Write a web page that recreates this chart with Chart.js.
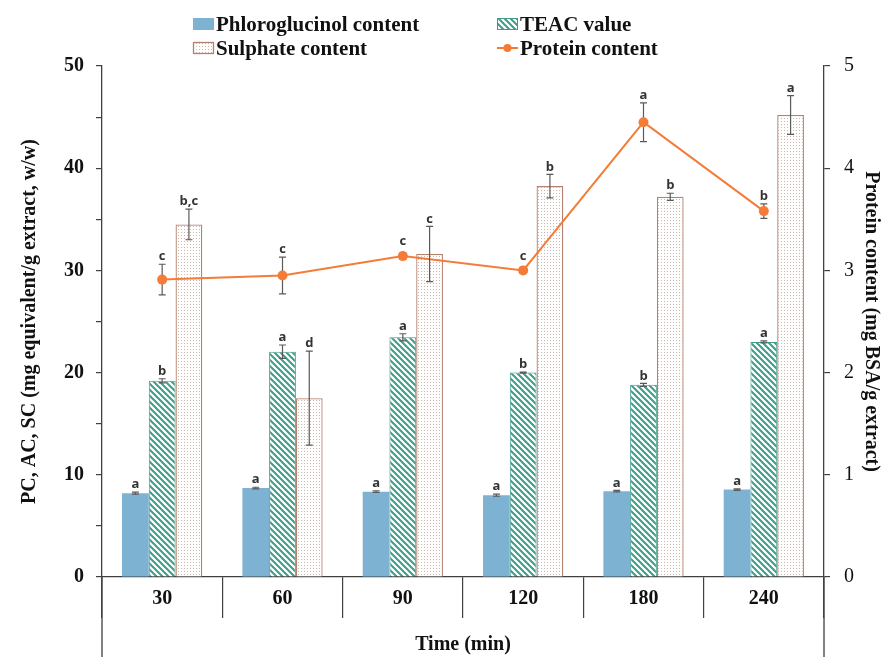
<!DOCTYPE html>
<html><head><meta charset="utf-8">
<script src="https://cdn.jsdelivr.net/npm/chart.js@4.4.1/dist/chart.umd.min.js"></script>
<style>html,body{margin:0;padding:0;background:#fff}#wrap{width:883px;height:657px;position:relative}</style>
</head><body><div id="wrap"><canvas id="c" width="883" height="657"></canvas></div>
<script>
const categories = ['30','60','90','120','180','240'];
const phloroglucinol = [8.2, 8.7, 8.35, 8.0, 8.4, 8.55];
const phloroglucinolErr = [0.1, 0.08, 0.08, 0.1, 0.08, 0.08];
const phloroglucinolLetters = ['a','a','a','a','a','a'];
const teac = [19.2, 22.05, 23.45, 20.0, 18.8, 23.0];
const teacErr = [0.2, 0.65, 0.35, 0.05, 0.15, 0.1];
const teacLetters = ['b','a','a','b','b','a'];
const sulphate = [34.5, 17.5, 31.6, 38.25, 37.2, 45.2];
const sulphateErr = [1.5, 4.6, 2.7, 1.15, 0.35, 1.9];
const sulphateLetters = ['b,c','d','c','b','b','a'];
const protein = [2.91, 2.95, 3.14, 3.0, 4.45, 3.58];
const proteinErr = [0.15, 0.18, 0.03, 0.03, 0.19, 0.07];
const proteinLetters = ['c','c','c','c','a','b'];
const leftAxisTitle = 'PC, AC, SC (mg equivalent/g extract, w/w)';
const rightAxisTitle = 'Protein content (mg BSA/g extract)';
const xAxisTitle = 'Time (min)';

const SERIF = "'Liberation Serif', 'Times New Roman', serif";
const BLUE = '#7DB2D3';
const TEAL = '#3f9c88';
const BROWN = '#b5816f';
const ORANGE = '#F47C36';
const ERR = '#5a5a5a';

function stripePattern(){
  const c = document.createElement('canvas'); c.width = 6; c.height = 6;
  const g = c.getContext('2d');
  g.fillStyle = '#fff'; g.fillRect(0,0,6,6);
  g.strokeStyle = TEAL; g.lineWidth = 2;
  g.beginPath();
  g.moveTo(-3,-3); g.lineTo(9,9);
  g.moveTo(-9,-3); g.lineTo(3,9);
  g.moveTo(3,-3); g.lineTo(15,9);
  g.stroke();
  return g.createPattern(c,'repeat');
}
function dotPattern(){
  const c = document.createElement('canvas'); c.width = 3; c.height = 3;
  const g = c.getContext('2d');
  g.fillStyle = '#fff'; g.fillRect(0,0,3,3);
  g.fillStyle = '#cfb6ab'; g.fillRect(1,1,1,1);
  return g.createPattern(c,'repeat');
}
const stripes = stripePattern();
const dots = dotPattern();

const errorData = [
  {err: phloroglucinolErr, letters: phloroglucinolLetters},
  {err: teacErr, letters: teacLetters},
  {err: sulphateErr, letters: sulphateLetters},
  {err: proteinErr, letters: proteinLetters}
];

function drawErrors(chart, di){
  const ctx = chart.ctx;
  const ds = chart.data.datasets[di];
  const meta = chart.getDatasetMeta(di);
  const scale = chart.scales[meta.yAxisID];
  const info = errorData[di];
  ctx.save();
  ctx.strokeStyle = ERR; ctx.lineWidth = 1.2;
  meta.data.forEach((el, i) => {
    const v = ds.data[i], e = info.err[i];
    const yTop = scale.getPixelForValue(v + e);
    const yBot = scale.getPixelForValue(v - e);
    const x = el.x;
    ctx.beginPath();
    ctx.moveTo(x, yTop); ctx.lineTo(x, yBot);
    ctx.moveTo(x-3.5, yTop); ctx.lineTo(x+3.5, yTop);
    ctx.moveTo(x-3.5, yBot); ctx.lineTo(x+3.5, yBot);
    ctx.stroke();
  });
  ctx.restore();
}

const extrasPlugin = {
  id: 'extras',
  beforeDatasetDraw(chart, args){
    if (chart.data.datasets[args.index].type === 'line') drawErrors(chart, args.index);
  },
  afterDatasetsDraw(chart){
    const ctx = chart.ctx;
    ctx.save();
    chart.data.datasets.forEach((ds, di) => {
      if (ds.type !== 'line') drawErrors(chart, di);
      const meta = chart.getDatasetMeta(di);
      const scale = chart.scales[meta.yAxisID];
      const info = errorData[di];
      meta.data.forEach((el, i) => {
        const yTop = scale.getPixelForValue(ds.data[i] + info.err[i]);
        let top = Math.min(yTop, el.y);
        if (ds.type === 'line') top = Math.min(yTop, el.y - 7);
        ctx.fillStyle = '#333';
        ctx.font = "bold 13px 'Open Sans', sans-serif";
        ctx.textAlign = 'center'; ctx.textBaseline = 'bottom';
        ctx.fillText(info.letters[i], el.x, top - 1);
      });
    });
    ctx.restore();
  },
  afterDraw(chart){
    const ctx = chart.ctx, a = chart.chartArea;
    ctx.save();
    ctx.strokeStyle = '#404040'; ctx.lineWidth = 1.3;
    ctx.beginPath();
    ctx.moveTo(a.left, a.bottom); ctx.lineTo(a.left, chart.height);
    ctx.moveTo(a.right, a.bottom); ctx.lineTo(a.right, chart.height);
    ctx.stroke();
    ctx.font = 'bold 21px ' + SERIF;
    ctx.fillStyle = '#111'; ctx.textBaseline = 'alphabetic'; ctx.textAlign = 'left';
    const items = [
      {x:193, y:18, kind:'blue', text:'Phloroglucinol content'},
      {x:497, y:18, kind:'teal', text:'TEAC value'},
      {x:193, y:42, kind:'dots', text:'Sulphate content'},
      {x:497, y:42, kind:'line', text:'Protein content'}
    ];
    items.forEach(it => {
      const w = 21, h = 12;
      if (it.kind === 'blue'){ ctx.fillStyle = BLUE; ctx.fillRect(it.x, it.y, w, h); }
      else if (it.kind === 'teal'){ ctx.fillStyle = stripes; ctx.fillRect(it.x, it.y, w, h); ctx.strokeStyle = TEAL; ctx.lineWidth = 1; ctx.strokeRect(it.x+0.5, it.y+0.5, w-1, h-1); }
      else if (it.kind === 'dots'){ ctx.fillStyle = dots; ctx.fillRect(it.x, it.y, w, h); ctx.strokeStyle = BROWN; ctx.lineWidth = 1.3; ctx.strokeRect(it.x+0.5, it.y+0.5, w-1, h-1); }
      else { ctx.strokeStyle = ORANGE; ctx.lineWidth = 2; ctx.beginPath(); ctx.moveTo(it.x, it.y+h/2); ctx.lineTo(it.x+w, it.y+h/2); ctx.stroke(); ctx.fillStyle = ORANGE; ctx.beginPath(); ctx.arc(it.x+w/2, it.y+h/2, 4, 0, Math.PI*2); ctx.fill(); }
      ctx.fillStyle = '#111';
      ctx.fillText(it.text, it.x + w + 2, it.y + h + 1);
    });
    ctx.restore();
  }
};

new Chart(document.getElementById('c'), {
  data: {
    labels: categories,
    datasets: [
      {type:'bar', label:'Phloroglucinol content', data: phloroglucinol, backgroundColor: BLUE, borderWidth: 0, yAxisID:'y', order: 1},
      {type:'bar', label:'TEAC value', data: teac, backgroundColor: stripes, borderColor: TEAL, borderWidth: 1, yAxisID:'y', order: 1},
      {type:'bar', label:'Sulphate content', data: sulphate, backgroundColor: dots, borderColor: BROWN, borderWidth: 1.3, yAxisID:'y', order: 1},
      {type:'line', label:'Protein content', data: protein, borderColor: ORANGE, backgroundColor: ORANGE, borderWidth: 2, pointRadius: 5, pointBorderWidth: 0, pointBackgroundColor: ORANGE, tension: 0, yAxisID:'y1', order: 0}
    ]
  },
  options: {
    responsive: false,
    animation: false,
    devicePixelRatio: 1,
    layout: {padding: {top: 66, left: 18, right: 0, bottom: 0}},
    plugins: {legend: {display: false}, tooltip: {enabled: false}},
    datasets: {bar: {categoryPercentage: 0.667, barPercentage: 1.0}},
    scales: {
      x: {
        type: 'category', offset: true,
        grid: {offset: true, drawOnChartArea: false, drawTicks: true, tickLength: 41, color: '#404040', lineWidth: 1.2},
        border: {display: true, color: '#404040', width: 1.3},
        ticks: {font: {family: SERIF, size: 20, weight: 'bold'}, color: '#111', padding: -31, maxRotation: 0},
        title: {display: true, text: xAxisTitle, font: {family: SERIF, size: 20, weight: 'bold'}, color: '#111', padding: {top: 0, bottom: 0}},
        afterFit(s){ s.height = 80; }
      },
      y: {
        position: 'left', min: 0, max: 50,
        grid: {drawOnChartArea: false, drawTicks: true, tickLength: 6, color: '#404040', lineWidth: 1.2},
        border: {display: true, color: '#404040', width: 1.3},
        ticks: {stepSize: 5, autoSkip: false, font: {family: SERIF, size: 20, weight: 'bold'}, color: '#111', padding: 12,
          callback: v => (v % 10 === 0 ? v : '')},
        title: {display: true, text: leftAxisTitle, font: {family: SERIF, size: 20, weight: 'bold'}, color: '#111', padding: {top: 0, bottom: 0}},
        afterFit(s){ s.width = 84; }
      },
      y1: {
        position: 'right', min: 0, max: 5,
        grid: {drawOnChartArea: false, drawTicks: true, tickLength: 6, color: '#404040', lineWidth: 1.2},
        border: {display: true, color: '#404040', width: 1.3},
        ticks: {stepSize: 1, font: {family: SERIF, size: 20}, color: '#111', padding: 14},
        title: {display: true, text: rightAxisTitle, font: {family: SERIF, size: 20, weight: 'bold'}, color: '#111', padding: {top: 0, bottom: 3}},
        afterFit(s){ s.width = 59; }
      }
    }
  },
  plugins: [extrasPlugin]
});
</script></body></html>
